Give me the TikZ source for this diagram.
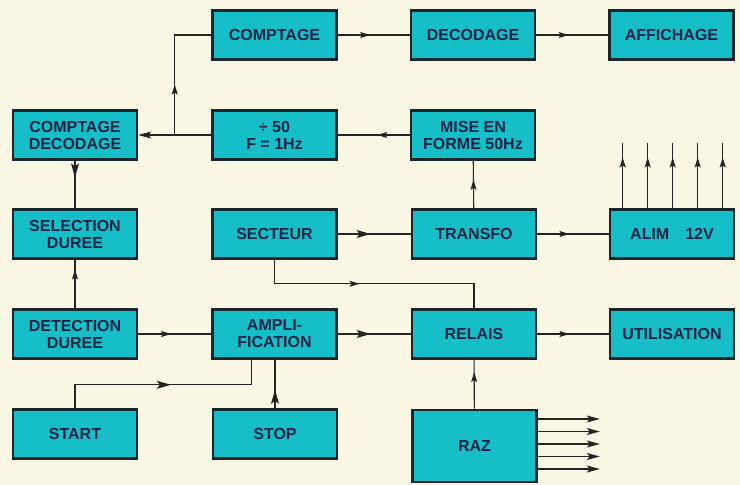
\documentclass[tikz,border=0pt]{standalone}
\usepackage{fontspec}
\setmainfont{Liberation Sans}
\usetikzlibrary{
  arrows.meta,
  calc,
  positioning,
  decorations.markings
}
\definecolor{paper}{RGB}{250,246,228}
\definecolor{cyanbox}{RGB}{22,190,200}
\definecolor{boxedge}{RGB}{22,40,45}
\definecolor{ink}{RGB}{25,35,70}
\definecolor{wirecol}{RGB}{35,35,35}
\tikzset{
  >=Stealth,
  line cap=round,
  line join=round,
  block/.style={draw=boxedge, fill=cyanbox, line width=2.6pt, minimum width=124pt, minimum height=49pt, inner sep=0pt, align=center, text=ink, font=\bfseries\fontsize{16}{17}\selectfont},
  tallblock/.style={block, minimum height=72pt},
  wire/.style={draw=wirecol, line width=1.1pt},
  midarrow/.style={wire, postaction={decorate}, decoration={markings, mark=at position #1 with {\arrow{Stealth[length=10pt,width=6pt,inset=2pt]}}}},
  midarrow/.default=0.5,
  bigarrow/.style={wire, postaction={decorate}, decoration={markings, mark=at position #1 with {\arrow{Stealth[length=14pt,width=8pt,inset=3pt]}}}},
  bigarrow/.default=0.5,
  endarrow/.style={wire, -{Stealth[length=13pt,width=7pt,inset=3pt]}}
}
\begin{document}
\begin{tikzpicture}[x=1pt,y={(0pt,-1pt)}]
  \fill[paper] (0,0) rectangle (740,485);
  \useasboundingbox (0,0) rectangle (740,485);

  % blocks
  \node[block] (cpt)   at (274.5,35)  {COMPTAGE};
  \node[block] (dec)   at (473,35)    {DECODAGE};
  \node[block] (aff)   at (671.5,35)  {AFFICHAGE};
  \node[block] (cdec)  at (75,135)    {COMPTAGE\\DECODAGE};
  \node[block] (div)   at (274.5,135) {÷ 50\\F = 1Hz};
  \node[block] (mise)  at (473,135)   {MISE EN\\FORME 50Hz};
  \node[block] (sel)   at (75,234)    {SELECTION\\DUREE};
  \node[block] (sect)  at (274.5,234) {SECTEUR};
  \node[block] (trans) at (474,234)   {TRANSFO};
  \node[block] (alim)  at (672,234)   {ALIM\quad 12V};
  \node[block] (det)   at (75,334)    {DETECTION\\DUREE};
  \node[block] (amp)   at (274.5,334) {AMPLI-\\FICATION};
  \node[block] (rel)   at (474,334)   {RELAIS};
  \node[block] (util)  at (672,334)   {UTILISATION};
  \node[block] (start) at (75,434)    {START};
  \node[block] (stop)  at (275,434)   {STOP};
  \node[tallblock] (raz) at (474.5,446) {RAZ};

  % top chain
  \coordinate (j1) at ($(cdec.east)!0.5!(div.west)$);
  \draw[endarrow] (div.west) -- (cdec.east);
  \draw[midarrow=0.37] (j1) |- (cpt.west);
  \draw[midarrow=0.45] (cpt) -- (dec);
  \draw[midarrow=0.45] (dec) -- (aff);
  \draw[midarrow=0.45] (mise) -- (div);
  \draw[midarrow=0.6] (trans) -- (mise);

  % mains side
  \draw[bigarrow=0.45] (sect) -- (trans);
  \draw[midarrow=0.45] (trans) -- (alim);
  \coordinate (k1) at ($(sect.south)+(0,24)$);
  \draw[midarrow=0.44] (sect.south) -- (k1) -| (rel.north);
  \foreach \i in {1,...,5}{
    \coordinate (v\i) at ($(alim.north west)+(\i*25-11,0)$);
    \coordinate (t\i) at ($(v\i)+(0,-65)$);
    \draw[midarrow=0.78] (v\i) -- (t\i);
  }

  % timing side
  \draw[bigarrow=0.35] (cdec) -- (sel);
  \draw[midarrow=0.8] (det) -- (sel);
  \draw[midarrow=0.45] (det) -- (amp);
  \draw[bigarrow=0.45] (amp) -- (rel);
  \draw[midarrow=0.45] (rel) -- (util);
  \draw[midarrow=0.75] (raz) -- (rel);
  \coordinate (k2) at ($(amp.south)+(-23,25)$);
  \draw[bigarrow=0.53] (start.north) |- (k2) -- (k2 |- amp.south);
  \draw[bigarrow=0.38] (stop.north) -- (stop.north |- amp.south);

  % RAZ outputs
  \foreach \i in {1,...,5}{
    \coordinate (r\i) at ($(raz.east)+(0,\i*12.5-39.5)$);
    \coordinate (q\i) at ($(r\i)+(62,0)$);
    \draw[endarrow] (r\i) -- (q\i);
  }
\end{tikzpicture}
\end{document}
